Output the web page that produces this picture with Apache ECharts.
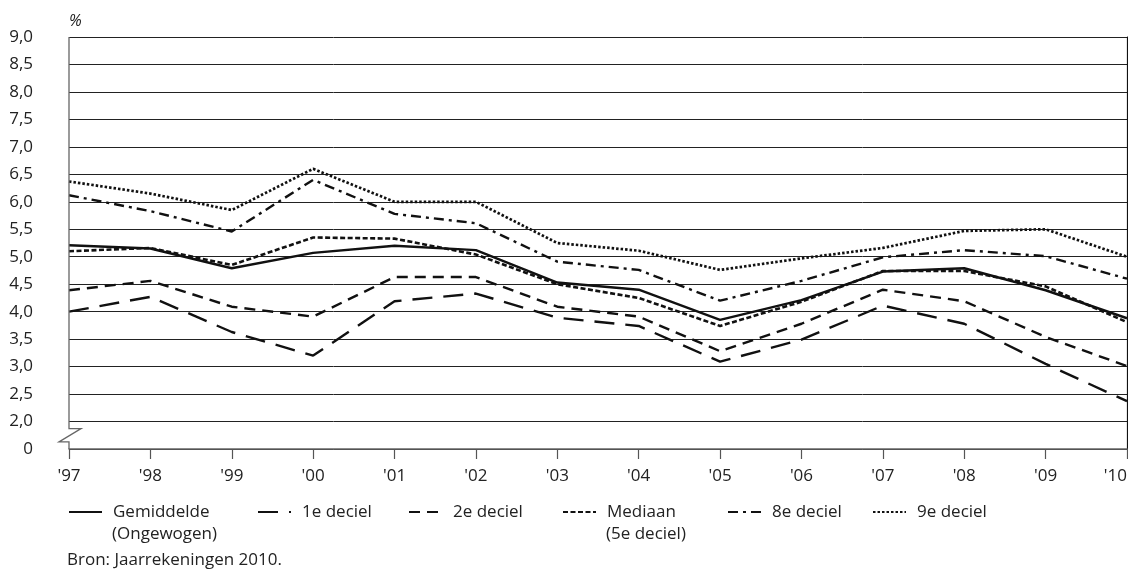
<!DOCTYPE html>
<html>
<head>
<meta charset="utf-8">
<script src="https://cdn.jsdelivr.net/npm/echarts@6/dist/echarts.min.js"></script>
<style>
  html, body { margin: 0; padding: 0; background: #fff; overflow: hidden; width: 1128px; height: 574px; }
  #chart { width: 1128px; height: 574px; overflow: hidden; }
</style>
</head>
<body>
<div id="chart"></div>
<script>
var years = ["'97", "'98", "'99", "'00", "'01", "'02", "'03", "'04", "'05", "'06", "'07", "'08", "'09", "'10"];

var gemiddelde = [5.21, 5.15, 4.79, 5.07, 5.20, 5.12, 4.53, 4.40, 3.85, 4.21, 4.73, 4.79, 4.39, 3.88];
var deciel1    = [4.00, 4.27, 3.63, 3.20, 4.19, 4.33, 3.89, 3.74, 3.09, 3.49, 4.11, 3.78, 3.05, 2.37];
var deciel2    = [4.39, 4.56, 4.09, 3.91, 4.63, 4.63, 4.09, 3.91, 3.28, 3.78, 4.40, 4.19, 3.54, 3.01];
var mediaan    = [5.10, 5.16, 4.85, 5.35, 5.33, 5.04, 4.50, 4.25, 3.74, 4.18, 4.74, 4.74, 4.46, 3.81];
var deciel8    = [6.12, 5.83, 5.46, 6.40, 5.78, 5.61, 4.91, 4.76, 4.20, 4.56, 4.99, 5.12, 5.01, 4.60];
var deciel9    = [6.37, 6.15, 5.85, 6.60, 6.00, 6.00, 5.25, 5.11, 4.76, 4.97, 5.16, 5.47, 5.50, 5.00];

// y axis: the broken section (0 .. 2,0) is drawn as one tick step; value 1.5 stands for "0"
var yTicks      = [1.5, 2.0, 2.5, 3.0, 3.5, 4.0, 4.5, 5.0, 5.5, 6.0, 6.5, 7.0, 7.5, 8.0, 8.5, 9.0];
var yTickLabels = ['0', '2,0', '2,5', '3,0', '3,5', '4,0', '4,5', '5,0', '5,5', '6,0', '6,5', '7,0', '7,5', '8,0', '8,5', '9,0'];

var seriesNames     = ['Gemiddelde', '1e deciel', '2e deciel', 'Mediaan', '8e deciel', '9e deciel'];
var legendSubLabels = ['(Ongewogen)', '', '', '(5e deciel)', '', ''];
var seriesData      = [gemiddelde, deciel1, deciel2, mediaan, deciel8, deciel9];

var FONT = 'Open Sans';
var FS = 17;

var styles = [
  { width: 2.4, type: 'solid' },
  { width: 2.4, type: [20, 11] },
  { width: 2.4, type: [11, 7] },
  { width: 2.6, type: [5, 2.5] },
  { width: 2.4, type: [10, 5, 3, 5] },
  { width: 2.7, type: [2.5, 2] }
];
var legendLeft = [68, 257, 408, 562, 727, 872];
var LEGEND_Y = 512;     // centre of first legend text line
var ICON_W = 33;
var TEXT_PAD = 6;

var series = seriesNames.map(function (n, i) {
  return {
    name: n,
    type: 'line',
    data: seriesData[i],
    symbol: 'none',
    showSymbol: false,
    animation: false,
    lineStyle: { color: '#111', width: styles[i].width, type: styles[i].type, cap: 'butt' },
    itemStyle: { color: '#111' }
  };
});

var legends = seriesNames.map(function (n, i) {
  return {
    data: [n],
    left: legendLeft[i],
    top: LEGEND_Y - 10.5,
    padding: 0,
    itemWidth: ICON_W,
    itemHeight: 14,
    selectedMode: false,
    itemStyle: { opacity: 0 },
    textStyle: {
      fontFamily: FONT, fontSize: FS, color: '#222', lineHeight: 21,
      padding: [0, 0, 0, TEXT_PAD]
    }
  };
});

var subTexts = [];
legendSubLabels.forEach(function (t, i) {
  if (!t) return;
  subTexts.push({
    type: 'text',
    left: legendLeft[i] + ICON_W + 5 + TEXT_PAD,
    top: LEGEND_Y + 21 - 9.5,
    silent: true,
    style: { text: t, font: 'normal ' + FS + 'px "' + FONT + '"', fill: '#222', lineHeight: 21 }
  });
});

var chart = echarts.init(document.getElementById('chart'), null, { renderer: 'canvas', width: 1128, height: 574 });

var option = {
  backgroundColor: '#fff',
  animation: false,
  title: {
    text: 'Bron: Jaarrekeningen 2010.',
    left: 67, top: 552, padding: 0,
    textStyle: { fontFamily: FONT, fontSize: FS, fontWeight: 'normal', color: '#222' }
  },
  legend: legends,
  grid: { left: 69, right: 1, top: 37, bottom: 125, containLabel: false, outerBoundsMode: 'none' },
  xAxis: {
    type: 'category',
    data: years,
    boundaryGap: false,
    axisLine: { show: true, lineStyle: { color: '#666', width: 1.5 } },
    axisTick: { show: true, length: 10, lineStyle: { color: '#555', width: 1.2 } },
    axisLabel: { margin: 19, fontFamily: FONT, fontSize: FS, color: '#222', alignMaxLabel: 'right' },
    splitLine: { show: false }
  },
  yAxis: [{
    type: 'value',
    min: 1.5, max: 9.0, interval: 0.5,
    name: '%',
    nameLocation: 'end',
    nameGap: 16,
    nameTextStyle: { fontFamily: FONT, fontSize: 16, fontStyle: 'italic', color: '#222', align: 'left', verticalAlign: 'middle' },
    axisLine: { show: false },
    axisTick: { show: false },
    axisLabel: {
      margin: 36, fontFamily: FONT, fontSize: FS, color: '#222',
      formatter: function (v) {
        for (var k = 0; k < yTicks.length; k++) {
          if (Math.abs(yTicks[k] - v) < 1e-6) return yTickLabels[k];
        }
        return '';
      }
    },
    splitLine: { show: true, lineStyle: { color: '#222', width: 1 } }
  }, {
    type: 'value',
    position: 'right',
    min: 1.5, max: 9.0, interval: 0.5,
    axisLine: { show: true, lineStyle: { color: '#111', width: 1.2 } },
    axisTick: { show: false },
    axisLabel: { show: false },
    splitLine: { show: false }
  }],
  series: series
};

chart.setOption(option);

// left axis line with a break between 0 and 2,0
var x0 = chart.convertToPixel({ xAxisIndex: 0 }, 0);
var yTop = chart.convertToPixel({ yAxisIndex: 0 }, 9.0);
var yBot = chart.convertToPixel({ yAxisIndex: 0 }, 1.5);
var yA = chart.convertToPixel({ yAxisIndex: 0 }, 1.87);
var yB = chart.convertToPixel({ yAxisIndex: 0 }, 1.63);
chart.setOption({
  graphic: [{
    type: 'polyline',
    silent: true,
    z: 10,
    shape: { points: [[x0, yTop], [x0, yA], [x0 + 12, yA], [x0 - 10, yB], [x0, yB], [x0, yBot]] },
    style: { stroke: '#666', lineWidth: 1.3, fill: null }
  }].concat(subTexts)
});
</script>
</body>
</html>
